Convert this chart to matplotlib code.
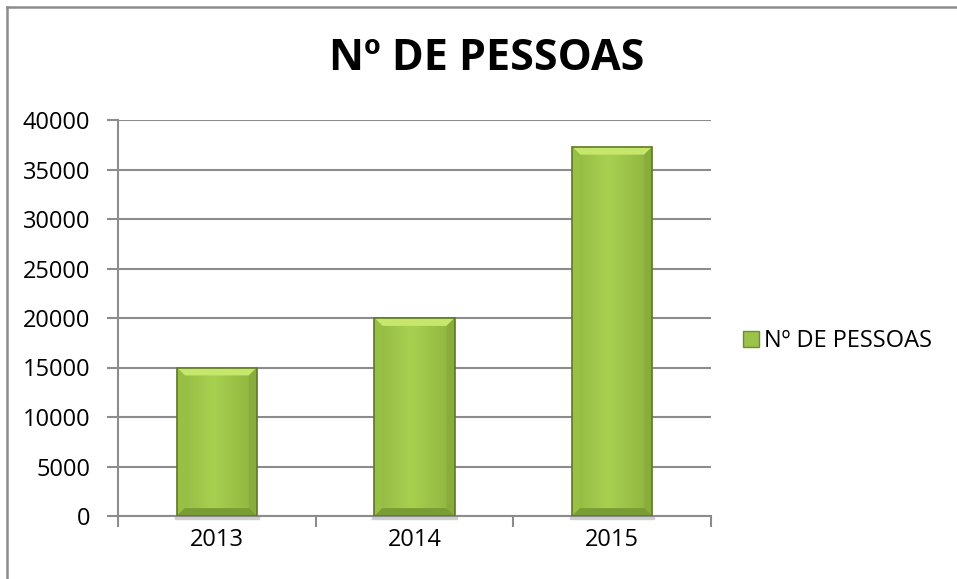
import matplotlib.pyplot as plt
import numpy as np
from matplotlib.patches import Rectangle, Polygon
from matplotlib.lines import Line2D
from matplotlib.colors import LinearSegmentedColormap

years = ["2013", "2014", "2015"]
pessoas = [15000, 20000, 37300]
yticks = [0, 5000, 10000, 15000, 20000, 25000, 30000, 35000, 40000]
title = "Nº DE PESSOAS"

plt.rcParams['font.family'] = ['Open Sans', 'DejaVu Sans']

grid_col = "#8c8c8c"
fig = plt.figure(figsize=(9.57, 5.79), dpi=100)
ax = fig.add_axes([118 / 957, 63 / 579, 593 / 957, 396 / 579])

x = np.arange(len(years))
bar_w = 0.405
ax.set_xlim(-0.5, len(years) - 0.5)
ax.set_ylim(0, 40000)

# plain bars first (dark edge), then the bevel look on top
bars = ax.bar(x, pessoas, width=bar_w, color="#6f8f2c", zorder=3)

# gradient for the face: lighter in the middle, darker at the sides
grad = np.linspace(0, 1, 64)
face = np.abs(grad - 0.45) * 2
cmap = LinearSegmentedColormap.from_list("g", ["#a8d050", "#8fb43f"])

bx = 0.04    # bevel in x units
by = 800     # bevel in y units
for b in bars:
    x0, w, h = b.get_x(), b.get_width(), b.get_height()
    # shadow under bar
    ax.add_patch(Rectangle((x0 - 0.01, -300), w + 0.02, 300, color="#cfcfcf",
                           zorder=2, clip_on=False))
    ax.imshow(np.tile(face, (2, 1)), cmap=cmap, aspect="auto",
              extent=(x0 + 0.006, x0 + w - 0.006, 150, h - 150), zorder=4)
    # top bevel
    ax.add_patch(Polygon([(x0, h), (x0 + w, h), (x0 + w - bx, h - by), (x0 + bx, h - by)],
                         closed=True, color="#c6e66c", zorder=5, lw=0))
    # side bevels
    ax.add_patch(Polygon([(x0, h), (x0 + bx, h - by), (x0 + bx, by), (x0, 0)],
                         closed=True, color="#98c046", zorder=5, lw=0))
    ax.add_patch(Polygon([(x0 + w, h), (x0 + w - bx, h - by), (x0 + w - bx, by), (x0 + w, 0)],
                         closed=True, color="#88ad3c", zorder=5, lw=0))
    # bottom bevel
    ax.add_patch(Polygon([(x0, 0), (x0 + w, 0), (x0 + w - bx, by), (x0 + bx, by)],
                         closed=True, color="#7a9c34", zorder=5, lw=0))
    ax.add_patch(Rectangle((x0, 0), w, h, fill=False, ec="#5f7a24", lw=1.2, zorder=6))

ax.set_yticks(yticks)
ax.set_yticklabels([str(v) for v in yticks], fontsize=17)
ax.yaxis.grid(True, color=grid_col, lw=1.5, zorder=0)
ax.set_axisbelow(True)

ax.set_xticks(x)
ax.set_xticklabels(years, fontsize=17)
ax.set_xticks(np.arange(len(years) + 1) - 0.5, minor=True)
ax.tick_params(axis="x", which="major", length=0, pad=9)
ax.tick_params(axis="x", which="minor", length=8, width=1.5, color=grid_col, direction="out")
ax.tick_params(axis="y", length=8, width=1.5, color=grid_col, pad=12)

for s in ["top", "right"]:
    ax.spines[s].set_visible(False)
for s in ["left", "bottom"]:
    ax.spines[s].set_color(grid_col)
    ax.spines[s].set_linewidth(1.5)

fig.text(0.509, 0.899, title, fontsize=31, fontweight="bold", ha="center", va="center")

handle = Rectangle((0, 0), 1, 1, fc="#9bc24a", ec="#6f8f2c", lw=1)
fig.legend([handle], [title], loc="center left", bbox_to_anchor=(0.776, 0.411),
           frameon=False, fontsize=17, handlelength=0.7, handleheight=0.7,
           handletextpad=0.2, borderaxespad=0, borderpad=0)

# outer chart border (only left and top visible)
fig.add_artist(Line2D([7.5 / 957, 7.5 / 957], [0, 1 - 6.5 / 579], color=grid_col, lw=1.8))
fig.add_artist(Line2D([7.5 / 957, 1], [1 - 6.5 / 579, 1 - 6.5 / 579], color=grid_col, lw=1.8))

plt.savefig("out.png", dpi=100)
